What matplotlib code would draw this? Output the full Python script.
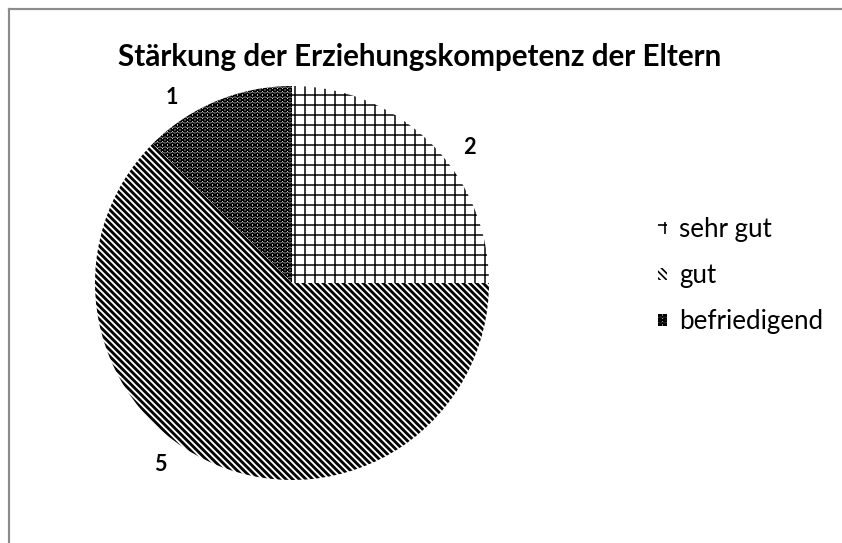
import numpy as np
import matplotlib
matplotlib.use('Agg')
import matplotlib.pyplot as plt
from matplotlib.lines import Line2D

plt.rcParams['font.family'] = ['Lato', 'DejaVu Sans']
plt.rcParams['hatch.linewidth'] = 1.0

# Daten
categories = ['sehr gut', 'gut', 'befriedigend']
values = [2, 5, 1]
hatches = ['++', '\\' * 6, 'OOOO']
hatch_lw = [0.9, 1.7, 0.9]

title = 'Stärkung der Erziehungskompetenz der Eltern'

W, H, DPI = 842, 543, 120
fig = plt.figure(figsize=(W / DPI, H / DPI), dpi=DPI)

# Kreis: Mittelpunkt (292, 283) px, Radius 197 px
cx, cy, r = 292, 283, 197
ax = fig.add_axes([(cx - r) / W, (H - cy - r) / H, 2 * r / W, 2 * r / H])

wedges, texts = ax.pie(values,
                       startangle=90,
                       counterclock=False,
                       colors=['white'] * len(values),
                       labels=[str(v) for v in values],
                       labeldistance=1.13,
                       wedgeprops=dict(edgecolor='black', linewidth=0),
                       textprops=dict(fontsize=13, fontweight='bold'))
for w, h, lw in zip(wedges, hatches, hatch_lw):
    w.set_hatch(h)
    if hasattr(w, 'set_hatch_linewidth'):
        w.set_hatch_linewidth(lw)

# Beschriftungen etwas versetzt wie im Original
label_pos = [(0.90, 0.69), (-0.67, -0.92), (-0.61, 0.94)]
for t, (x, y) in zip(texts, label_pos):
    t.set_position((x, y))
    t.set_ha('center')
    t.set_va('center')

ax.set_xlim(-1, 1)
ax.set_ylim(-1, 1)
ax.set_aspect('equal')
ax.axis('off')

fig.text(420 / W, 1 - 57 / H, title, ha='center', va='center',
         fontsize=17.8, fontweight='bold')

fig.legend(wedges, categories, loc='upper left',
           bbox_to_anchor=(635 / W, 1 - 194 / H),
           frameon=False, fontsize=15.5,
           handlelength=0.35, handleheight=0.35, handletextpad=0.45,
           labelspacing=0.81)

# Rahmen (links und oben)
frame_color = '#8c8c8c'
fig.add_artist(Line2D([8.5 / W, 8.5 / W], [0, 1 - 8.5 / H], color=frame_color, lw=1.3,
                      transform=fig.transFigure))
fig.add_artist(Line2D([8.5 / W, 1], [1 - 8.5 / H, 1 - 8.5 / H], color=frame_color, lw=1.3,
                      transform=fig.transFigure))

fig.savefig('out.png', dpi=DPI, facecolor='white')
